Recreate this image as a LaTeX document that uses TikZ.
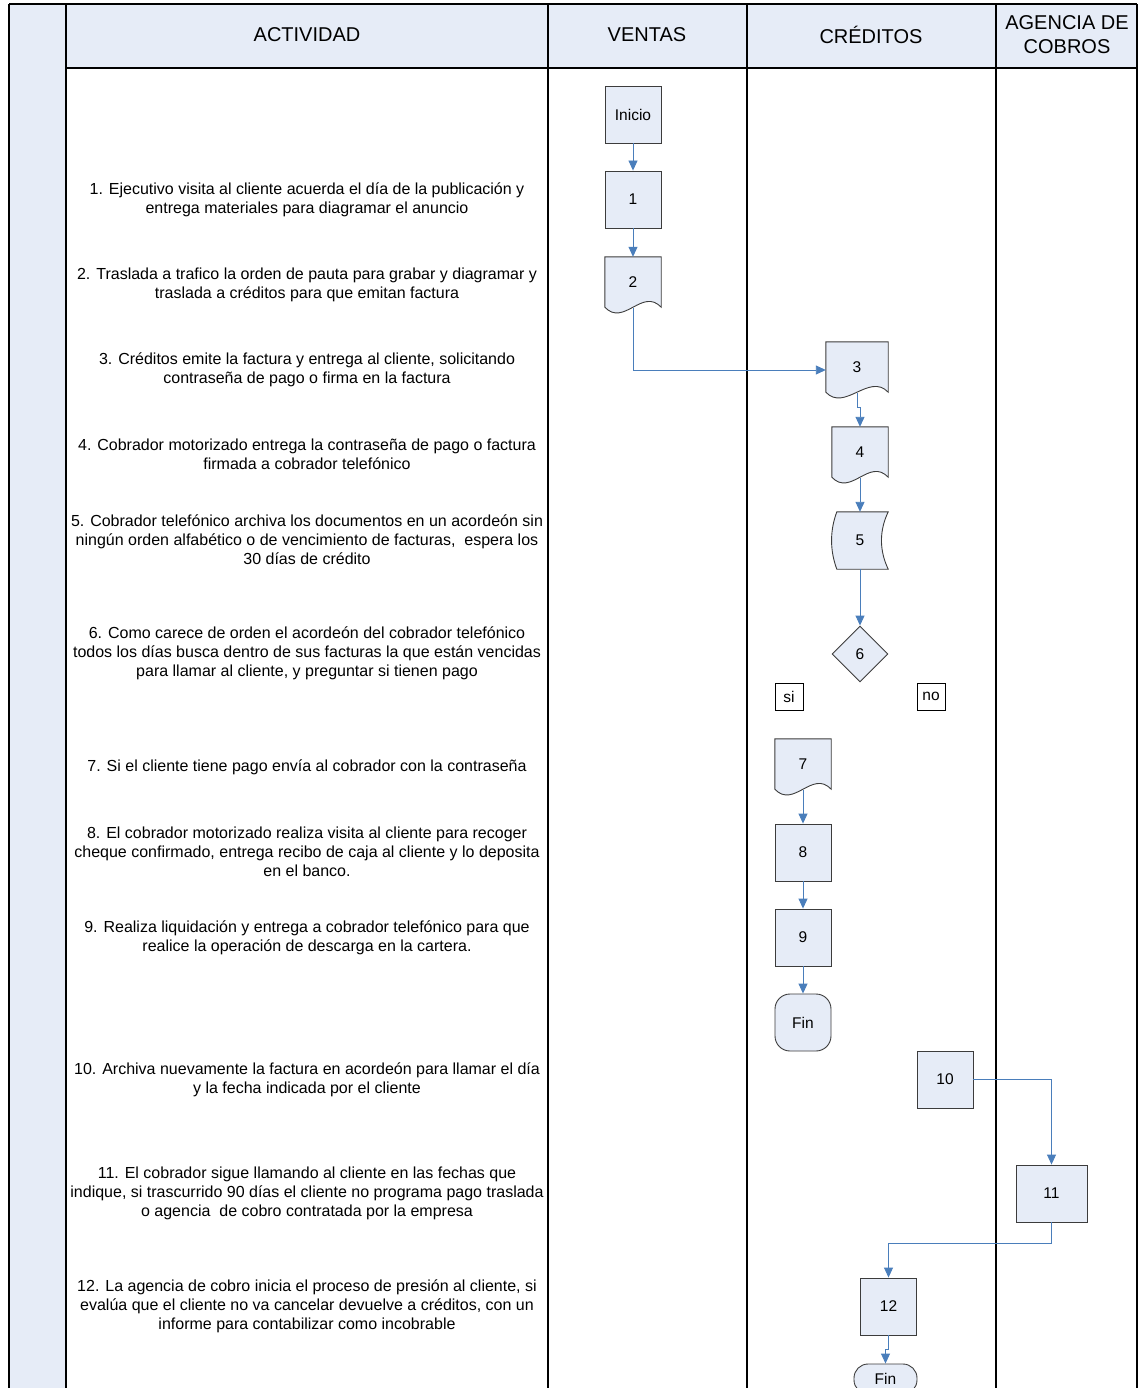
\documentclass[tikz,border=0pt]{standalone}
\usepackage{fontspec}
\setmainfont{Liberation Sans}
\usetikzlibrary{shapes.geometric,arrows.meta,calc,backgrounds}

\definecolor{lanefill}{HTML}{E6ECF7}
\definecolor{linkblue}{HTML}{4A7EBB}
\definecolor{shapeline}{HTML}{3C3C3C}

\tikzset{
	proc/.style={draw=shapeline, fill=lanefill, line width=0.9pt, minimum width=56pt, minimum height=57pt, inner sep=0pt, font=\fontsize{15.5}{18}\selectfont},
	docnode/.style={minimum width=56pt, minimum height=50pt, inner sep=0pt, font=\fontsize{15.5}{18}\selectfont},
	shapeoutline/.style={draw=shapeline, fill=lanefill, line width=0.9pt},
	etiqueta/.style={draw=black, fill=white, line width=0.9pt, minimum width=28pt, minimum height=27pt, inner sep=0pt, font=\fontsize{15.5}{18}\selectfont},
	flecha/.style={draw=linkblue, line width=0.9pt, -{Triangle[length=10pt,width=9pt]}},
	actividad/.style={align=center, font=\fontsize{16}{19}\selectfont},
	encabezado/.style={align=center, font=\fontsize{20}{24}\selectfont},
	tabla/.style={draw=black, line width=1.4pt}
}

% wavy document outline around a node
\newcommand{\docforma}[1]{\path[shapeoutline] (#1.north west) -- (#1.south west) .. controls ($(#1.south west)+(19,20)$) and ($(#1.south east)+(-19,-20)$) .. (#1.south east) -- (#1.north east) -- cycle;}

\begin{document}
\begin{tikzpicture}[x=1pt,y=1pt,yscale=-1,xscale=1]
	\useasboundingbox (0,0) rectangle (1140,1388);
	\clip (0,0) rectangle (1140,1388);
	
	% Lanes
	\fill[lanefill] (9,4) rectangle (66,1392);
	\fill[lanefill] (66,4) rectangle (1137,68);
	\draw[tabla] (9,4) -- (1137,4);
	\draw[tabla] (66,68) -- (1137,68);
	\draw[tabla] (9,4) -- (9,1392);
	\draw[tabla] (66,4) -- (66,1392);
	\draw[tabla] (548,4) -- (548,1392);
	\draw[tabla] (747,4) -- (747,1392);
	\draw[tabla] (996,4) -- (996,1392);
	\draw[tabla] (1137,4) -- (1137,1392);
	
	% Header
	\node[encabezado] (hact) at (307,35) {ACTIVIDAD};
	\node[encabezado] (hven) at (647,35) {VENTAS};
	\node[encabezado] (hcre) at (871,35) {CRÉDITOS};
	\node[encabezado] (hage) at (1067,35) {AGENCIA DE\\COBROS};
	
	% Text Node
	\node[actividad] (t1) at (307,199.5) {1. Ejecutivo visita al cliente acuerda el día de la publicación y\\entrega materiales para diagramar el anuncio};
	\node[actividad] (t2) at (307,284.5) {2. Traslada a trafico la orden de pauta para grabar y diagramar y\\traslada a créditos para que emitan factura};
	\node[actividad] (t3) at (307,369.5) {3. Créditos emite la factura y entrega al cliente, solicitando\\contraseña de pago o firma en la factura};
	\node[actividad] (t4) at (307,454.5) {4. Cobrador motorizado entrega la contraseña de pago o factura\\firmada a cobrador telefónico};
	\node[actividad] (t5) at (307,540) {5. Cobrador telefónico archiva los documentos en un acordeón sin\\ningún orden alfabético o de vencimiento de facturas,\ \ espera los\\30 días de crédito};
	\node[actividad] (t6) at (307,653) {6. Como carece de orden el acordeón del cobrador telefónico\\todos los días busca dentro de sus facturas la que están vencidas\\para llamar al cliente, y preguntar si tienen pago};
	\node[actividad] (t7) at (307,767) {7. Si el cliente tiene pago envía al cobrador con la contraseña};
	\node[actividad] (t8) at (307,852) {8. El cobrador motorizado realiza visita al cliente para recoger\\cheque confirmado, entrega recibo de caja al cliente y lo deposita\\en el banco.};
	\node[actividad] (t9) at (307,937.5) {9. Realiza liquidación y entrega a cobrador telefónico para que\\realice la operación de descarga en la cartera.};
	\node[actividad] (t10) at (307,1079.5) {10. Archiva nuevamente la factura en acordeón para llamar el día\\y la fecha indicada por el cliente};
	\node[actividad] (t11) at (307,1193) {11. El cobrador sigue llamando al cliente en las fechas que\\indique, si trascurrido 90 días el cliente no programa pago traslada\\o agencia\ \ de cobro contratada por la empresa};
	\node[actividad] (t12) at (307,1306) {12. La agencia de cobro inicia el proceso de presión al cliente, si\\evalúa que el cliente no va cancelar devuelve a créditos, con un\\informe para contabilizar como incobrable};
	
	% Flow nodes
	\node[proc] (inicio) at (633,114.5) {Inicio};
	\node[proc] (n1) at (633,199.5) {1};
	\node[docnode] (d2) at (633,282) {2};
	\node[docnode, minimum width=62pt] (d3) at (857,367) {3};
	\node[docnode] (d4) at (860,452) {4};
	\node[docnode, minimum height=57pt] (s5) at (860,540.5) {5};
	\node[proc, diamond, minimum width=56pt, minimum height=56pt] (q6) at (860,654) {6};
	\node[etiqueta] (si) at (789,696.5) {si};
	\node[etiqueta] (no) at (931,696.5) {no};
	\node[docnode] (d7) at (803,764) {7};
	\node[proc] (n8) at (803,852.5) {8};
	\node[proc] (n9) at (803,937.5) {9};
	\node[proc, rounded corners=15pt] (fin1) at (803,1022.5) {Fin};
	\node[proc] (n10) at (945,1079.5) {10};
	\node[proc, minimum width=71pt] (n11) at (1051.5,1193.5) {11};
	\node[proc] (n12) at (888.5,1306.5) {12};
	\node[proc, minimum width=63pt, minimum height=30pt, rounded corners=14pt] (fin2) at (885.5,1379) {Fin};
	
	% Outlines behind the text
	\begin{pgfonlayer}{background}
		\docforma{d2}
		\docforma{d3}
		\docforma{d4}
		\docforma{d7}
		\path[shapeoutline] ($(s5.north west)+(5,0)$) -- (s5.north east) .. controls ($(s5.north east)+(-9,19)$) and ($(s5.south east)+(-9,-19)$) .. (s5.south east) -- ($(s5.south west)+(5,0)$) .. controls ($(s5.south west)+(-2,-19)$) and ($(s5.north west)+(-2,19)$) .. ($(s5.north west)+(5,0)$) -- cycle;
	\end{pgfonlayer}
	
	% Connection
	\draw[flecha] (inicio.south) -- (n1.north);
	\draw[flecha] (n1.south) -- (d2.north);
	\draw[flecha] ($(d2.south)+(0,1)$) |- ($(d3.west)+(0,3)$);
	\draw[flecha] ($(d3.south)+(0,1)$) -- ++(0,14) -| (d4.north);
	\draw[flecha] ($(d4.south)+(0,1)$) -- (s5.north);
	\draw[flecha] (s5.south) -- (q6.north);
	\draw[flecha] ($(d7.south)+(0,1)$) -- (n8.north);
	\draw[flecha] (n8.south) -- (n9.north);
	\draw[flecha] (n9.south) -- (fin1.north);
	\draw[flecha] (n10.east) -| (n11.north);
	\draw[flecha] (n11.south) -- ++(0,21) -| (n12.north);
	\draw[flecha] (n12.south) -- ++(0,14) -| (fin2.north);
	
\end{tikzpicture}
\end{document}
